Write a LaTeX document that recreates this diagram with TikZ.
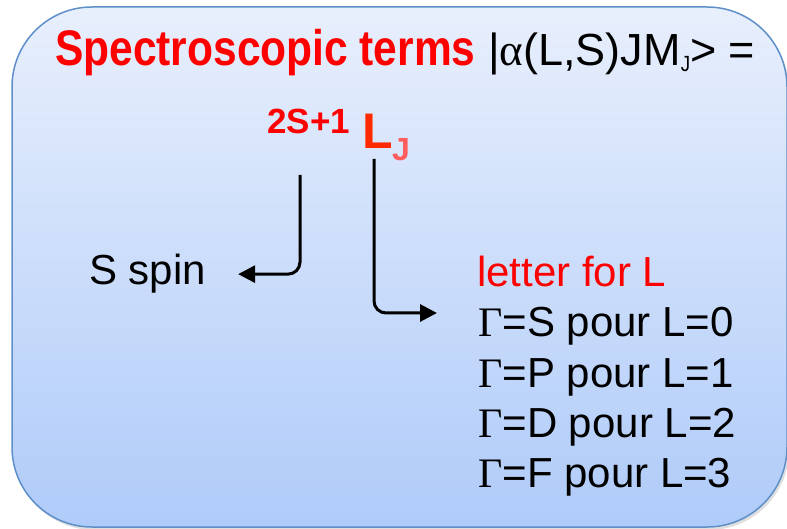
\documentclass[tikz,border=0pt]{standalone}
\usepackage{fontspec}
\setmainfont{Liberation Sans}
\newfontfamily\titlefont[FakeStretch=0.85]{Liberation Sans}
\newfontfamily\greekfont{Liberation Serif}
\usetikzlibrary{arrows.meta,shadows}
\definecolor{boxtop}{HTML}{E8EFFC}
\definecolor{boxbottom}{HTML}{AFCBF9}
\definecolor{boxline}{HTML}{5E8FC9}
\definecolor{termred}{HTML}{FF0000}
\definecolor{Lred}{HTML}{FF2A00}
\definecolor{Jred}{HTML}{FF5C5C}

\begin{document}
\begin{tikzpicture}[x=1pt,y=-1pt,
  txt/.style={anchor=base west, inner sep=0pt, font=\fontsize{42}{50}\selectfont},
  arr/.style={-{Triangle[length=17pt,width=17pt]}, line width=3pt, rounded corners=12pt}]
  \useasboundingbox (0,0) rectangle (787,529);

  % rounded box
  \draw[boxline, line width=1.5pt, rounded corners=80pt,
        top color=boxtop, bottom color=boxbottom,
        drop shadow={opacity=0.25, shadow xshift=2pt, shadow yshift=-3pt}]
    (12,7) rectangle (787,527);

  % title line
  \node[txt, font=\fontsize{45}{50}\selectfont] (title) at (55,66)
    {{\titlefont\bfseries\fontsize{50}{56}\selectfont\color{termred}Spectroscopic terms}
     |{\greekfont α}(L,S)JM\raisebox{-6pt}{\titlefont\fontsize{22}{22}\selectfont J}> =};

  % term symbol
  \node[txt, font=\bfseries\fontsize{35}{38}\selectfont, termred] (mult) at (267,134) {2S+1};
  \node[txt, font=\bfseries\fontsize{50}{56}\selectfont, Lred] (Lsym) at (362,149) {L};
  \node[txt, font=\bfseries\fontsize{32}{36}\selectfont, Jred] (Jsub) at (392,161) {J};

  % meanings
  \node[txt] (spin) at (89,285) {S spin};
  \node[txt, termred] (letter) at (477,287) {letter for L};
  \foreach \t/\n in {S/0,P/1,D/2,F/3}
    \node[txt] (g\n) at (478,{337+50*\n}) {{\greekfont Γ}=\t{} pour L=\n};

  % arrows
  \coordinate (sfrom) at (300,175);
  \coordinate (lfrom) at (374,159);
  \coordinate (ltip) at (437,313);
  \draw[arr] (sfrom) |- ([xshift=32pt]spin.east);
  \draw[arr] (lfrom) |- (ltip);
\end{tikzpicture}
\end{document}
